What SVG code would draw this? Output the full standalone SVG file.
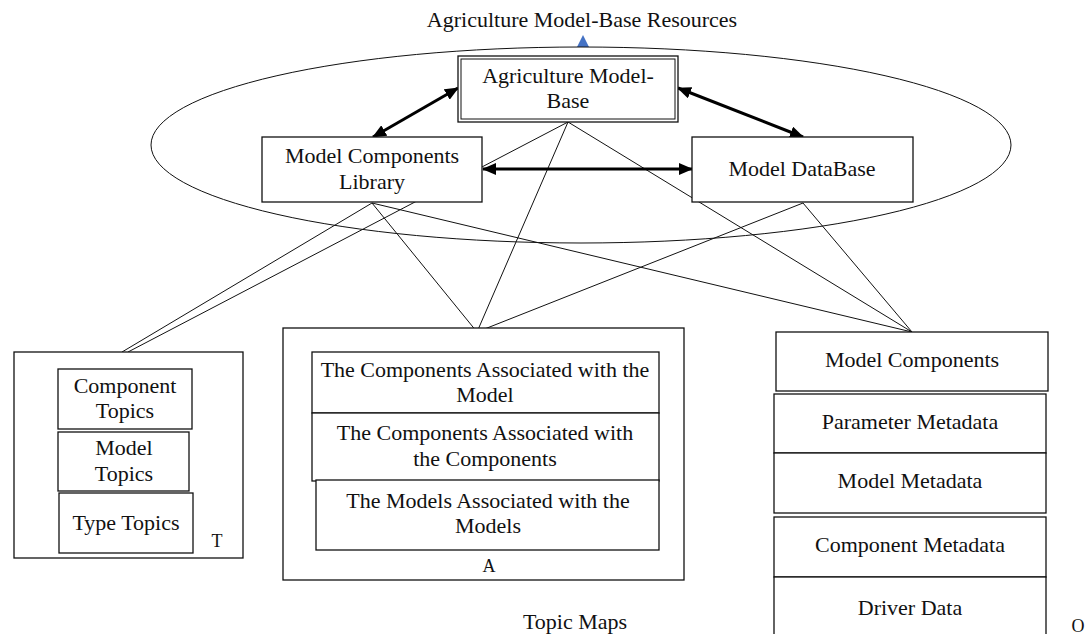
<svg xmlns="http://www.w3.org/2000/svg" width="1088" height="634" viewBox="0 0 1088 634">
<defs>
<style>
text{font-family:"Liberation Serif","Times New Roman",serif;font-size:22px;fill:#111;text-anchor:middle}
.sm{font-size:18px}
.box{fill:#fff;stroke:#111;stroke-width:1.3}
.thin{stroke:#111;stroke-width:1;fill:none}
.thick{stroke:#000;stroke-width:3;fill:none}
</style>
<marker id="ah" viewBox="0 0 14 12" refX="13" refY="6" markerWidth="14" markerHeight="12" markerUnits="userSpaceOnUse" orient="auto-start-reverse">
<path d="M0,0 L14,6 L0,12 z" fill="#000"/>
</marker>
</defs>
<rect width="1088" height="634" fill="#fff"/>
<text x="582" y="27">Agriculture Model-Base Resources</text>
<polygon points="583,35 577,47 589,47" fill="#4472C4"/>
<ellipse cx="581" cy="145" rx="430" ry="98" class="thin"/>
<g id="connectors">
<line class="thin" x1="372" y1="203" x2="122" y2="352"/>
<line class="thin" x1="568" y1="122" x2="128" y2="352"/>
<line class="thin" x1="372" y1="203" x2="477" y2="332"/>
<line class="thin" x1="568" y1="122" x2="477" y2="332"/>
<line class="thin" x1="803" y1="203" x2="477" y2="332"/>
<line class="thin" x1="372" y1="203" x2="912" y2="332"/>
<line class="thin" x1="568" y1="122" x2="912" y2="332"/>
<line class="thin" x1="803" y1="203" x2="912" y2="332"/>
<line class="thick" x1="373" y1="137" x2="458" y2="88" marker-start="url(#ah)" marker-end="url(#ah)"/>
<line class="thick" x1="803" y1="137" x2="678" y2="88" marker-start="url(#ah)" marker-end="url(#ah)"/>
<line class="thick" x1="483" y1="169" x2="692" y2="169" marker-start="url(#ah)" marker-end="url(#ah)"/>
</g>
<g id="amb">
<rect class="box" x="458" y="56" width="220" height="66"/>
<rect x="461" y="59" width="214" height="60" fill="none" stroke="#111" stroke-width="1"/>
<text x="568" y="83">Agriculture Model-</text>
<text x="568" y="108">Base</text>
</g>
<g id="mcl">
<rect class="box" x="262" y="137" width="220" height="65"/>
<text x="372" y="163">Model Components</text>
<text x="372" y="189">Library</text>
</g>
<g id="mdb">
<rect class="box" x="692" y="137" width="221" height="65"/>
<text x="802" y="176">Model DataBase</text>
</g>
<g id="topics">
<rect class="box" x="14" y="352" width="229" height="206"/>
<rect class="box" x="58" y="369" width="134" height="60"/>
<text x="125" y="393">Component</text>
<text x="125" y="418">Topics</text>
<rect class="box" x="58" y="432" width="131" height="59"/>
<text x="124" y="455">Model</text>
<text x="124" y="481">Topics</text>
<rect class="box" x="59" y="493" width="134" height="60"/>
<text x="126" y="530">Type Topics</text>
<text class="sm" x="217" y="547">T</text>
</g>
<g id="assoc">
<rect class="box" x="283" y="328" width="401" height="252"/>
<rect class="box" x="312" y="352" width="347" height="61"/>
<text x="485" y="377">The Components Associated with the</text>
<text x="485" y="402">Model</text>
<rect class="box" x="312" y="413" width="347" height="68"/>
<text x="485" y="440">The Components Associated with</text>
<text x="485" y="466">the Components</text>
<rect class="box" x="316" y="480" width="343" height="70"/>
<text x="488" y="508">The Models Associated with the</text>
<text x="488" y="533">Models</text>
<text class="sm" x="489" y="572">A</text>
</g>
<g id="occ">
<rect class="box" x="776" y="332" width="272" height="59"/>
<text x="912" y="367">Model Components</text>
<rect class="box" x="774" y="394" width="272" height="59"/>
<text x="910" y="429">Parameter Metadata</text>
<rect class="box" x="774" y="453" width="272" height="60"/>
<text x="910" y="488">Model Metadata</text>
<rect class="box" x="774" y="517" width="272" height="60"/>
<text x="910" y="552">Component Metadata</text>
<rect class="box" x="774" y="577" width="272" height="70"/>
<text x="910" y="615">Driver Data</text>
<text class="sm" x="1078" y="632">O</text>
</g>
<text x="575" y="629">Topic Maps</text>
</svg>
